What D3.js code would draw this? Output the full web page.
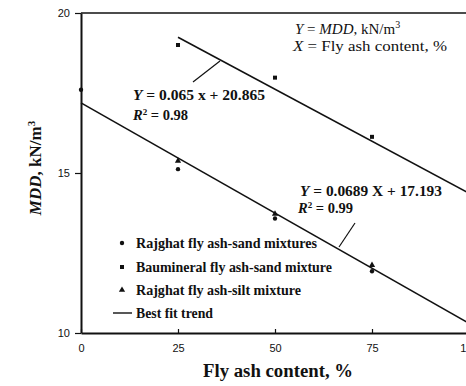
<!DOCTYPE html>
<html>
<head>
<meta charset="utf-8">
<script src="https://cdn.jsdelivr.net/npm/d3@7"></script>
<style>
  html, body { margin: 0; padding: 0; background: #fff; }
  svg { display: block; }
  .tick text { font-family: "Liberation Sans", Arial, sans-serif; font-size: 11px; fill: #111; }
  .serif { font-family: "Liberation Serif", "Times New Roman", serif; fill: #111; }
</style>
</head>
<body>
<svg id="chart" width="466" height="386"></svg>
<script>
// Fly ash content (%) tested for each mixture
const xTicks = [0, 25, 50, 75, 100];
const yTicks = [10, 15, 20];

// Maximum dry density, kN/m3
const rajghatSandX = [0, 25, 50, 75, 100];
const rajghatSandY = [17.6, 15.12, 13.58, 11.93, 10.35];
const baumineralX = [25, 50, 75, 100];
const baumineralY = [19.0, 17.98, 16.13, 14.22];
const rajghatSiltX = [25, 50, 75, 100];
const rajghatSiltY = [15.38, 13.72, 12.12, 10.45];

// Best fit trends: Y = intercept - slope * X, drawn over [xFrom, xTo]
const fitNames = ["Baumineral", "Rajghat"];
const fitSlopes = [0.065, 0.0689];
const fitIntercepts = [20.865, 17.193];
const fitFrom = [25, 0];
const fitTo = [100, 100];

const legendLabels = [
  "Rajghat fly ash-sand mixtures",
  "Baumineral fly ash-sand mixture",
  "Rajghat fly ash-silt mixture",
  "Best fit trend"
];

const svg = d3.select("#chart");
const x = d3.scaleLinear().domain([0, 100]).range([81, 469]);
const y = d3.scaleLinear().domain([10, 20]).range([333, 13]);

// top frame line
svg.append("line")
  .attr("x1", x(0)).attr("x2", x(100))
  .attr("y1", y(20)).attr("y2", y(20))
  .attr("stroke", "#111").attr("stroke-width", 1.6);

// axes
const yAxis = svg.append("g")
  .attr("transform", `translate(${x(0)},0)`)
  .call(d3.axisLeft(y).tickValues(yTicks).tickSize(6).tickSizeOuter(0).tickPadding(5));
yAxis.select(".domain").attr("stroke", "#111").attr("stroke-width", 2);
yAxis.selectAll(".tick line").attr("stroke", "#111").attr("stroke-width", 1.2);

const xAxis = svg.append("g")
  .attr("transform", `translate(0,${y(10)})`)
  .call(d3.axisBottom(x).tickValues(xTicks).tickSize(-4).tickSizeOuter(0).tickPadding(11));
xAxis.select(".domain").attr("stroke", "#111").attr("stroke-width", 2);
xAxis.selectAll(".tick line").attr("stroke", "#111").attr("stroke-width", 1.2);

// trend lines
fitNames.forEach((name, i) => {
  const x0 = fitFrom[i], x1 = fitTo[i];
  svg.append("line")
    .attr("class", "fit " + name)
    .attr("x1", x(x0)).attr("y1", y(fitIntercepts[i] - fitSlopes[i] * x0))
    .attr("x2", x(x1)).attr("y2", y(fitIntercepts[i] - fitSlopes[i] * x1))
    .attr("stroke", "#111").attr("stroke-width", 1.6);
});

// markers
const sym = {
  circle: d3.symbol().type(d3.symbolCircle).size(15),
  square: d3.symbol().type(d3.symbolSquare).size(16),
  triangle: d3.symbol().type(d3.symbolTriangle).size(17)
};
function drawSeries(xs, ys, shape) {
  svg.append("g").selectAll("path").data(xs).join("path")
    .attr("d", sym[shape])
    .attr("transform", (d, i) => `translate(${x(d)},${y(ys[i])})`)
    .attr("fill", "#111");
}
drawSeries(rajghatSandX, rajghatSandY, "circle");
drawSeries(baumineralX, baumineralY, "square");
drawSeries(rajghatSiltX, rajghatSiltY, "triangle");

// helper for serif text blocks, optionally stretched to a set width
function serifText(px, py, size, bold, width) {
  const t = svg.append("text").attr("class", "serif")
    .attr("x", px).attr("y", py).attr("font-size", size)
    .attr("font-weight", bold ? "bold" : "normal");
  if (width) t.attr("textLength", width).attr("lengthAdjust", "spacingAndGlyphs");
  return t;
}

// equation for Baumineral trend with leader
svg.append("line").attr("x1", 193).attr("y1", 82).attr("x2", 220).attr("y2", 61)
  .attr("stroke", "#111").attr("stroke-width", 1.2);
const eq1 = serifText(133, 100, 14.5, true, 132);
eq1.append("tspan").attr("font-style", "italic").text("Y");
eq1.append("tspan").text(" = 0.065 x + 20.865");
const r1 = serifText(133, 120, 14.5, true);
r1.append("tspan").attr("font-style", "italic").text("R");
r1.append("tspan").attr("dy", -5).attr("font-size", 9).text("2");
r1.append("tspan").attr("dy", 5).text(" = 0.98");

// equation for Rajghat trend with leader
svg.append("line").attr("x1", 355).attr("y1", 223).attr("x2", 339).attr("y2", 247)
  .attr("stroke", "#111").attr("stroke-width", 1.2);
const eq2 = serifText(300, 196, 14.5, true, 142);
eq2.append("tspan").attr("font-style", "italic").text("Y");
eq2.append("tspan").text(" = 0.0689 X + 17.193");
const r2 = serifText(298, 213, 14.5, true);
r2.append("tspan").attr("font-style", "italic").text("R");
r2.append("tspan").attr("dy", -5).attr("font-size", 9).text("2");
r2.append("tspan").attr("dy", 5).text(" = 0.99");

// variable definitions
const def1 = serifText(295, 34, 15, false);
def1.append("tspan").attr("font-style", "italic").text("Y");
def1.append("tspan").text(" = ");
def1.append("tspan").attr("font-style", "italic").text("MDD");
def1.append("tspan").text(", kN/m");
def1.append("tspan").attr("dy", -6).attr("font-size", 10).text("3");
const def2 = serifText(293, 51, 15.5, false, 154);
def2.append("tspan").attr("font-style", "italic").text("X");
def2.append("tspan").text(" = Fly ash content, %");

// legend
const legendY = [243, 267, 290, 313];
const legendWidths = [181, 196, 165, 77];
const legendShapes = ["circle", "square", "triangle", null];
legendLabels.forEach((lab, i) => {
  if (legendShapes[i]) {
    svg.append("path").attr("d", sym[legendShapes[i]])
      .attr("transform", `translate(122,${legendY[i]})`).attr("fill", "#111");
  } else {
    svg.append("line").attr("x1", 113).attr("x2", 132)
      .attr("y1", legendY[i]).attr("y2", legendY[i])
      .attr("stroke", "#111").attr("stroke-width", 1.4);
  }
  serifText(136, legendY[i] + 4.5, 14, true, legendWidths[i]).text(lab);
});

// axis titles
const yt = svg.append("text").attr("class", "serif")
  .attr("transform", "translate(41,168) rotate(-90)")
  .attr("text-anchor", "middle")
  .attr("font-size", 17).attr("font-weight", "bold");
yt.append("tspan").attr("font-style", "italic").text("MDD");
yt.append("tspan").text(", kN/m");
yt.append("tspan").attr("dy", -6).attr("font-size", 11).text("3");

serifText(203, 377, 18.5, true, 150).text("Fly ash content, %");
</script>
</body>
</html>
